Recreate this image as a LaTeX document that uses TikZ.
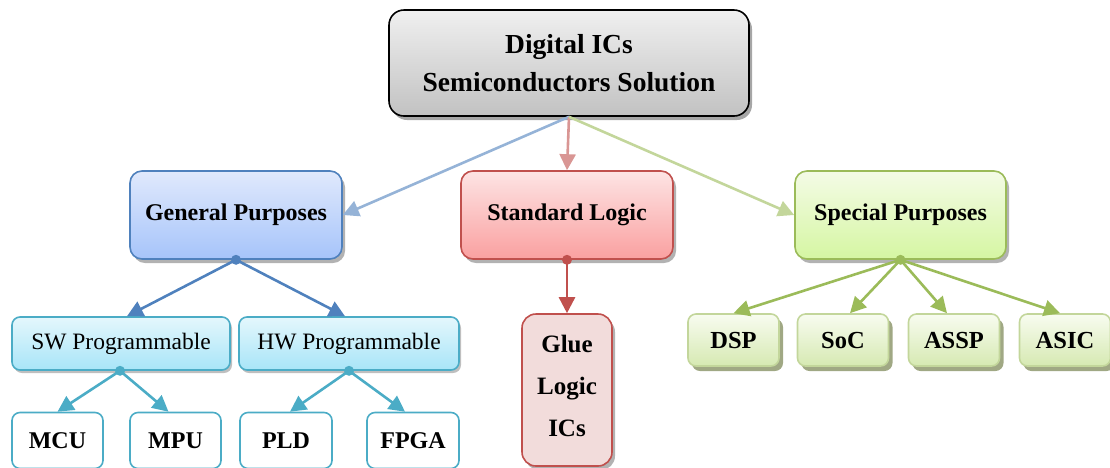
\documentclass[tikz,border=0pt]{standalone}
\usepackage{fontspec}
\setmainfont{Liberation Serif}
\usetikzlibrary{arrows.meta,shadows}
\definecolor{topbd}{HTML}{000000}
\definecolor{gpbd}{HTML}{4F81BD}
\definecolor{slbd}{HTML}{C0504D}
\definecolor{spbd}{HTML}{9BBB59}
\definecolor{cybd}{HTML}{4BACC6}
\definecolor{lblue}{HTML}{95B3D7}
\definecolor{lred}{HTML}{D99694}
\definecolor{lgreen}{HTML}{C3D69B}
\tikzset{
  box/.style={draw, line width=1.6pt, inner sep=0pt, align=center, font=\bfseries\fontsize{24}{28}\selectfont},
  topbox/.style={box, draw=topbd, rounded corners=15pt, top color=gray!12, bottom color=gray!48,
     drop shadow={shadow xshift=3pt,shadow yshift=-4pt,opacity=0.35,fill=black},
     minimum width=360pt, minimum height=106pt, font=\bfseries\fontsize{27.5}{38}\selectfont},
  gpbox/.style={box, draw=gpbd, rounded corners=12pt, top color={rgb,255:red,224;green,233;blue,252}, bottom color={rgb,255:red,166;green,196;blue,250},
     drop shadow={shadow xshift=3pt,shadow yshift=-4pt,opacity=0.3,fill=black},
     minimum width=212pt, minimum height=88pt},
  slbox/.style={box, draw=slbd, rounded corners=12pt, top color={rgb,255:red,253;green,228;blue,228}, bottom color={rgb,255:red,250;green,160;blue,160},
     drop shadow={shadow xshift=3pt,shadow yshift=-4pt,opacity=0.3,fill=black},
     minimum width=212pt, minimum height=88pt},
  spbox/.style={box, draw=spbd, rounded corners=12pt, top color={rgb,255:red,244;green,251;blue,230}, bottom color={rgb,255:red,213;green,246;blue,162},
     drop shadow={shadow xshift=3pt,shadow yshift=-4pt,opacity=0.3,fill=black},
     minimum width=211pt, minimum height=88pt},
  cybox/.style={box, draw=cybd, rounded corners=8pt, top color={rgb,255:red,228;green,247;blue,252}, bottom color={rgb,255:red,168;green,229;blue,248},
     drop shadow={shadow xshift=2pt,shadow yshift=-3pt,opacity=0.25,fill=black},
     minimum height=53pt, font=\fontsize{23.5}{28}\selectfont},
  leafbox/.style={box, draw=cybd, rounded corners=8pt, fill=white, minimum width=92pt, minimum height=56pt},
  gluebox/.style={box, draw=slbd, rounded corners=14pt, fill={rgb,255:red,242;green,220;blue,219},
     drop shadow={shadow xshift=3pt,shadow yshift=-4pt,opacity=0.3,fill=black},
     minimum width=90pt, minimum height=152pt},
  gluetext/.style={inner sep=0pt, align=center, font=\bfseries\fontsize{25}{42}\selectfont},
  grbox/.style={box, draw=lgreen, rounded corners=8pt, top color={rgb,255:red,248;green,252;blue,240}, bottom color={rgb,255:red,214;green,233;blue,178},
     drop shadow={shadow xshift=4pt,shadow yshift=-5pt,opacity=1,fill={rgb,255:red,160;green,168;blue,132}},
     minimum width=91pt, minimum height=52pt, font=\bfseries\fontsize{24.5}{28}\selectfont},
  conn/.style={line width=2.6pt, -{Triangle[length=16pt,width=16pt]}},
}
\begin{document}
\begin{tikzpicture}[x=1pt,y=-1pt]
\useasboundingbox (0,0) rectangle (1110,467);
% nodes
\node[topbox] (top) at (569,63) {Digital ICs\\Semiconductors Solution};
\node[gpbox] (gp) at (236,215) {General Purposes};
\node[slbox] (sl) at (567,215) {Standard Logic};
\node[spbox] (sp) at (900.5,215) {Special Purposes};
\node[cybox, minimum width=218pt] (sw) at (121,343.5) {SW Programmable};
\node[cybox, minimum width=220pt] (hw) at (349,343.5) {HW Programmable};
\node[leafbox, minimum width=91pt] (mcu) at (57.5,440.5) {MCU};
\node[leafbox, minimum width=91pt] (mpu) at (175.5,440.5) {MPU};
\node[leafbox] (pld) at (286,440.5) {PLD};
\node[leafbox] (fpga) at (413,440.5) {FPGA};
\node[gluebox] (glue) at (567,390) {};
\node[gluetext] (gluetxt) at (567,386) {Glue\\Logic\\ICs};
\node[grbox] (dsp) at (733.5,340) {DSP};
\node[grbox] (soc) at (843,340) {SoC};
\node[grbox] (assp) at (954,340) {ASSP};
\node[grbox] (asic) at (1065,340) {ASIC};
% top connectors
\draw[conn, color=lblue] (top.south) -- (gp.east);
\draw[conn, color=lred] (top.south) -- (sl.north);
\draw[conn, color=lgreen] (top.south) -- (sp.west);
% general purposes
\fill[gpbd] (gp.south) circle (5pt);
\draw[conn, color=gpbd] (gp.south) -- ([xshift=6pt]sw.north);
\draw[conn, color=gpbd] (gp.south) -- ([xshift=-4pt]hw.north);
% sw / hw
\fill[cybd] ([xshift=-1pt]sw.south) circle (5pt);
\draw[conn, color=cybd] ([xshift=-1pt]sw.south) -- (mcu.north);
\draw[conn, color=cybd] ([xshift=-1pt]sw.south) -- ([xshift=-7pt]mpu.north);
\fill[cybd] (hw.south) circle (5pt);
\draw[conn, color=cybd] (hw.south) -- ([xshift=4pt]pld.north);
\draw[conn, color=cybd] (hw.south) -- ([xshift=-8pt]fpga.north);
% standard logic
\fill[slbd] (sl.south) circle (5pt);
\draw[conn, color=slbd] (sl.south) -- (glue.north);
% special purposes
\fill[spbd] (sp.south) circle (5pt);
\draw[conn, color=spbd] (sp.south) -- (dsp.north);
\draw[conn, color=spbd] (sp.south) -- ([xshift=7pt]soc.north);
\draw[conn, color=spbd] (sp.south) -- ([xshift=-7pt]assp.north);
\draw[conn, color=spbd] (sp.south) -- ([xshift=-5pt]asic.north);
\end{tikzpicture}
\end{document}
